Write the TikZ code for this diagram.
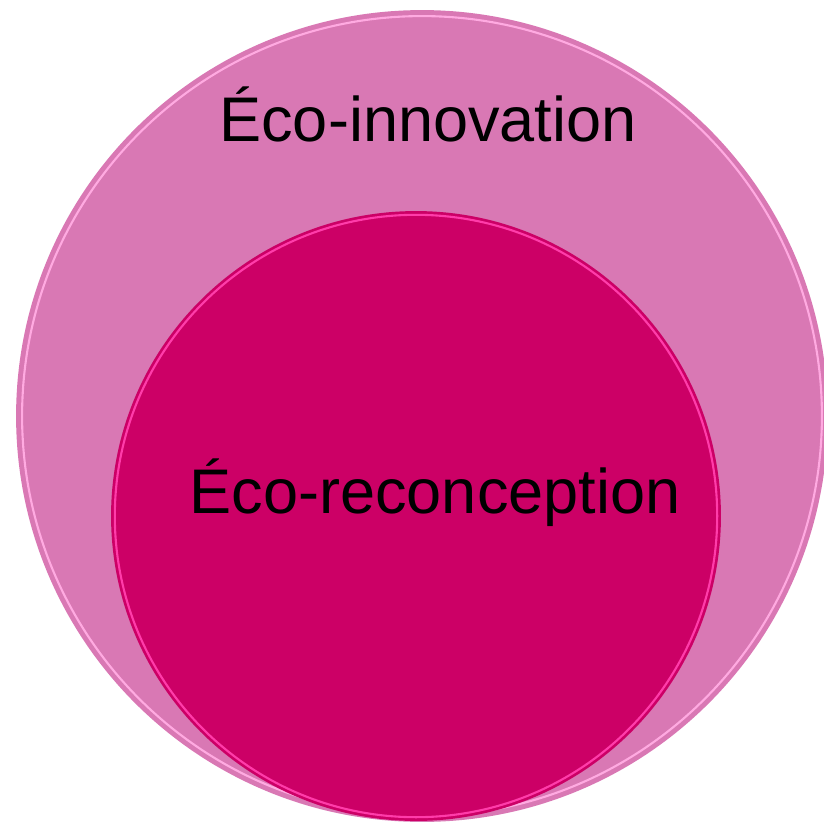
\documentclass[tikz,border=0pt]{standalone}
\usepackage{fontspec}
\setmainfont{Liberation Sans}
\usepackage{tikz}
\usetikzlibrary{positioning}

\definecolor{outerpink}{RGB}{217,120,180}
\definecolor{innerpink}{RGB}{204,0,102}
\definecolor{rimlight}{RGB}{255,170,225}
\definecolor{rimbright}{RGB}{255,60,170}

\begin{document}
\begin{tikzpicture}[
  x=0.02cm, y=-0.02cm,
  bigdisc/.style={circle, fill=outerpink, minimum size=16.24cm, inner sep=0pt},
  smalldisc/.style={circle, fill=innerpink, minimum size=12.2cm, inner sep=0pt},
  rim/.style={circle, draw=#1, line width=1.2pt, inner sep=0pt},
  label/.style={font=\fontsize{35.9}{40}\selectfont, text=black, anchor=base, inner sep=0pt}
]
\useasboundingbox (0,0) rectangle (824,824);

\node[bigdisc] (innov) at (422,416) {};
\node[rim=rimlight, minimum size=16.0cm] (innovrim) at (422,416) {};

\node[smalldisc] (reconc) at (416,516) {};
\node[rim=rimbright, minimum size=12.05cm] (reconcrim) at (416,516) {};

\node[label] (innovtext) at (428,142) {Éco-innovation};
\node[label] (reconctext) at (435,513) {Éco-reconception};

\end{tikzpicture}
\end{document}
